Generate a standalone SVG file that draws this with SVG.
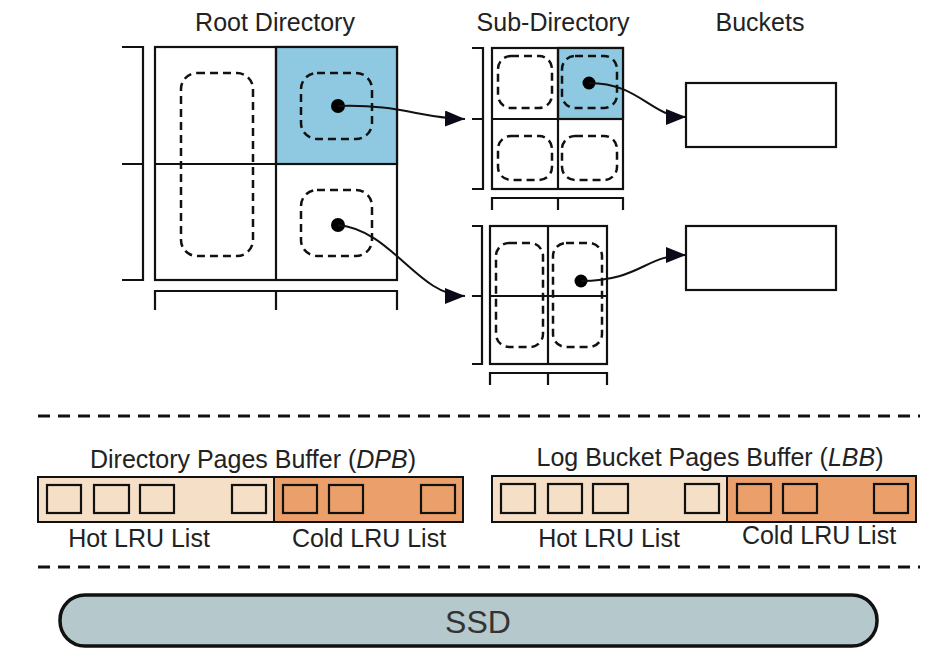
<svg xmlns="http://www.w3.org/2000/svg" width="927" height="648" viewBox="0 0 927 648">
  <defs>
    <style>
      .lbl { font-family: "Liberation Sans", Arial, sans-serif; font-size: 25px; fill: #222; text-anchor: middle; }
      .cell { fill: #fff; stroke: #111; stroke-width: 2.2; }
      .blue { fill: #8ec8e1; stroke: #111; stroke-width: 2.2; }
      .grid { fill: none; stroke: #111; stroke-width: 2.2; }
      .dash { fill: none; stroke: #111; stroke-width: 2.5; stroke-dasharray: 8 5; }
      .dot { fill: #000; }
      .hot { fill: #f6dfc7; stroke: #111; stroke-width: 2; }
      .cold { fill: #eba06c; stroke: #111; stroke-width: 2; }
      .page { fill: none; stroke: #111; stroke-width: 2.2; }
      .sep { fill: none; stroke: #111; stroke-width: 3; stroke-dasharray: 12 8; }
      .link { fill: none; stroke: #111; stroke-width: 2; }
    </style>
    <marker id="arrow" viewBox="0 0 20 16" refX="20" refY="8" markerWidth="20" markerHeight="16" markerUnits="userSpaceOnUse" orient="auto">
      <path d="M0,0 L20,8 L0,16 Z" fill="#0a0a18"/>
    </marker>
  </defs>

  <rect width="927" height="648" fill="#fff"/>

  <!-- titles -->
  <text class="lbl" x="275" y="31">Root Directory</text>
  <text class="lbl" x="553" y="31">Sub-Directory</text>
  <text class="lbl" x="760" y="31">Buckets</text>

  <!-- root directory: 2x2 -->
  <g id="root-directory">
    <rect class="cell" x="155" y="47" width="242" height="233"/>
    <rect class="blue" x="276" y="47" width="121" height="117"/>
    <line class="grid" x1="276" y1="47" x2="276" y2="280"/>
    <line class="grid" x1="155" y1="164" x2="397" y2="164"/>
    <path class="grid" d="M122,47 H143 V280 H122 M122,164 H143"/>
    <path class="grid" d="M155,310 V291 H397 V310 M276,291 V310"/>
    <rect class="dash" x="181" y="73" width="72" height="183" rx="16"/>
    <rect class="dash" x="301" y="73" width="71" height="66" rx="16"/>
    <rect class="dash" x="301" y="190" width="71" height="66" rx="16"/>
    <circle class="dot" cx="338" cy="106" r="7"/>
    <circle class="dot" cx="338" cy="225" r="7"/>
  </g>

  <!-- sub-directory, upper: 2x2 -->
  <g id="sub-directory-a">
    <rect class="cell" x="492" y="48" width="131" height="141"/>
    <rect class="blue" x="558" y="48" width="65" height="71"/>
    <line class="grid" x1="558" y1="48" x2="558" y2="189"/>
    <line class="grid" x1="492" y1="119" x2="623" y2="119"/>
    <path class="grid" d="M472,48 H483 V189 H472 M472,119 H483"/>
    <path class="grid" d="M492,210 V198 H623 V210 M558,198 V210"/>
    <rect class="dash" x="498" y="56" width="54" height="52" rx="13"/>
    <rect class="dash" x="562" y="56" width="55" height="52" rx="13"/>
    <rect class="dash" x="498" y="136" width="54" height="44" rx="13"/>
    <rect class="dash" x="562" y="136" width="55" height="44" rx="13"/>
    <circle class="dot" cx="589" cy="83" r="6.5"/>
  </g>

  <!-- sub-directory, lower: 2x2 with column pairs -->
  <g id="sub-directory-b">
    <rect class="cell" x="490" y="226" width="117" height="138"/>
    <line class="grid" x1="548" y1="226" x2="548" y2="364"/>
    <line class="grid" x1="490" y1="296" x2="607" y2="296"/>
    <path class="grid" d="M472,226 H482 V364 H472 M472,296 H482"/>
    <path class="grid" d="M490,385 V373 H607 V385 M548,373 V385"/>
    <rect class="dash" x="496" y="243" width="47" height="104" rx="13"/>
    <rect class="dash" x="553" y="243" width="49" height="104" rx="13"/>
    <circle class="dot" cx="581" cy="281" r="6.5"/>
  </g>

  <!-- buckets -->
  <g id="bucket-a">
    <rect class="cell" x="686" y="83" width="150" height="64"/>
  </g>
  <g id="bucket-b">
    <rect class="cell" x="686" y="226" width="150" height="64"/>
  </g>

  <!-- pointers -->
  <g id="connectors">
    <path class="link" marker-end="url(#arrow)" d="M338,106 C400,104 420,118 465,119"/>
    <path class="link" marker-end="url(#arrow)" d="M338,225 C392,230 418,296 465,296"/>
    <path class="link" marker-end="url(#arrow)" d="M589,83 C640,83 650,117 686,117"/>
    <path class="link" marker-end="url(#arrow)" d="M581,281 C640,281 645,255 686,255"/>
  </g>

  <!-- layer separators -->
  <line class="sep" x1="38" y1="416" x2="920" y2="416"/>
  <line class="sep" x1="38" y1="567" x2="920" y2="567"/>

  <!-- directory pages buffer -->
  <g id="dpb">
    <text class="lbl" x="253" y="468">Directory Pages Buffer (<tspan font-style="italic">DPB</tspan>)</text>
    <rect class="hot" x="38" y="477" width="236" height="45"/>
    <rect class="cold" x="274" y="477" width="189" height="45"/>
    <rect class="page" x="47" y="485" width="34" height="28"/>
    <rect class="page" x="94" y="485" width="35" height="28"/>
    <rect class="page" x="140" y="485" width="34" height="28"/>
    <rect class="page" x="232" y="485" width="34" height="28"/>
    <rect class="page" x="283" y="485" width="34" height="28"/>
    <rect class="page" x="329" y="485" width="34" height="28"/>
    <rect class="page" x="421" y="485" width="34" height="28"/>
    <text class="lbl" x="139" y="547">Hot LRU List</text>
    <text class="lbl" x="369" y="547">Cold LRU List</text>
  </g>

  <!-- log bucket pages buffer -->
  <g id="lbb">
    <text class="lbl" x="710" y="466">Log Bucket Pages Buffer (<tspan font-style="italic">LBB</tspan>)</text>
    <rect class="hot" x="492" y="476" width="235" height="46"/>
    <rect class="cold" x="727" y="476" width="189" height="46"/>
    <rect class="page" x="501" y="484" width="34" height="29"/>
    <rect class="page" x="548" y="484" width="34" height="29"/>
    <rect class="page" x="593" y="484" width="35" height="29"/>
    <rect class="page" x="685" y="484" width="34" height="29"/>
    <rect class="page" x="737" y="484" width="34" height="29"/>
    <rect class="page" x="783" y="484" width="34" height="29"/>
    <rect class="page" x="874" y="484" width="34" height="29"/>
    <text class="lbl" x="609" y="547">Hot LRU List</text>
    <text class="lbl" x="819" y="544">Cold LRU List</text>
  </g>

  <!-- storage -->
  <g id="ssd">
    <rect x="60" y="595" width="817" height="51" rx="25" fill="#b5c8cc" stroke="#111" stroke-width="3.5"/>
    <text class="lbl" x="478" y="633" style="font-size:32px;fill:#333">SSD</text>
  </g>
</svg>
